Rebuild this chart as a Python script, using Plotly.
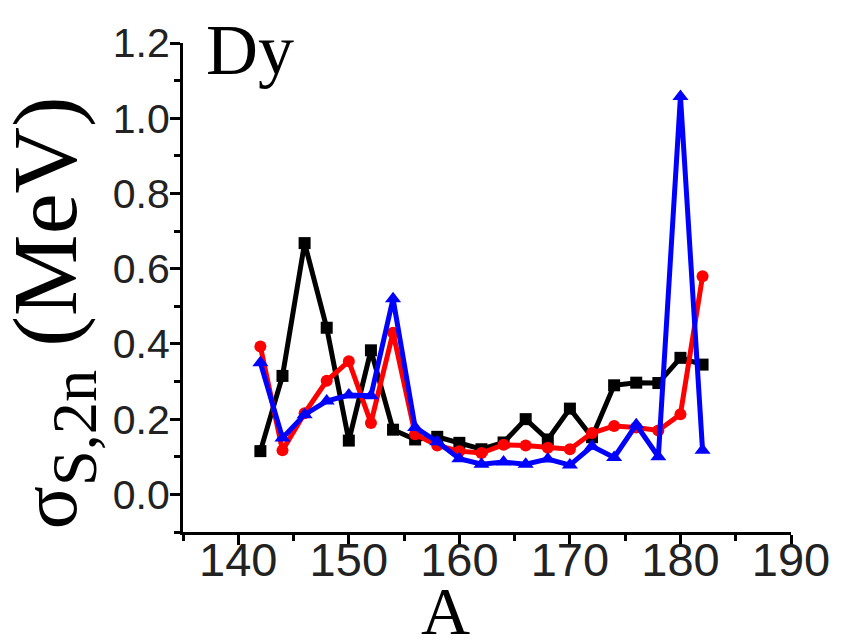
import plotly.graph_objects as go

A = [142, 144, 146, 148, 150, 152, 154, 156, 158, 160, 162, 164, 166, 168, 170, 172, 174, 176, 178, 180, 182]
black_vals = [0.115, 0.315, 0.668, 0.443, 0.143, 0.383, 0.172, 0.146, 0.153, 0.137, 0.12, 0.138, 0.2, 0.146, 0.228, 0.152, 0.29, 0.297, 0.296, 0.363, 0.345]
red_vals = [0.393, 0.117, 0.216, 0.302, 0.354, 0.19, 0.43, 0.16, 0.13, 0.115, 0.11, 0.132, 0.13, 0.124, 0.12, 0.163, 0.182, 0.178, 0.17, 0.213, 0.58]
blue_vals = [0.35, 0.15, 0.212, 0.248, 0.264, 0.262, 0.52, 0.178, 0.14, 0.095, 0.08, 0.086, 0.08, 0.094, 0.078, 0.128, 0.098, 0.185, 0.10, 1.058, 0.117]
x_ticks = [140, 150, 160, 170, 180, 190]
y_ticks = [0.0, 0.2, 0.4, 0.6, 0.8, 1.0, 1.2]

fig = go.Figure()
series = [
    (black_vals, "#000000", "square", 12),
    (red_vals, "#ff0000", "circle", 12),
    (blue_vals, "#0000ff", "triangle-up", 14),
]
for vals, col, sym, ms in series:
    fig.add_trace(go.Scatter(
        x=A, y=vals, mode="lines+markers",
        line=dict(color=col, width=5),
        marker=dict(color=col, symbol=sym, size=ms),
        showlegend=False, cliponaxis=False,
    ))

axis_common = dict(
    showline=True, linecolor="black", linewidth=3, mirror=False,
    ticks="outside", tickcolor="black", tickwidth=3, ticklen=10,
    showgrid=False, zeroline=False, ticklabeloverflow="allow",
)
fig.update_xaxes(
    range=[135, 190], tickvals=x_ticks, ticklabelstandoff=-25,
    tickfont=dict(family="Liberation Sans, Arial, sans-serif", size=47, color="#222"),
    minor=dict(dtick=5, tick0=135, ticks="outside", ticklen=6, tickwidth=3, tickcolor="black"),
    **axis_common,
)
fig.update_yaxes(
    range=[-0.1, 1.2], tickvals=y_ticks, tickformat=".1f", ticklabelstandoff=-8,
    tickfont=dict(family="Liberation Sans, Arial, sans-serif", size=41, color="#222"),
    minor=dict(dtick=0.1, tick0=0, ticks="outside", ticklen=6, tickwidth=3, tickcolor="black"),
    **axis_common,
)

fig.add_annotation(
    xref="paper", yref="paper", x=-0.215, y=0.448, textangle=-90,
    text='<span style="font-size:80px">σ</span><sub>S,2n</sub> (MeV)',
    showarrow=False, xanchor="center", yanchor="middle",
    font=dict(family="Liberation Serif, Times New Roman, serif", size=92, color="black"),
)
fig.add_annotation(
    xref="paper", yref="paper", x=0.4325, y=-0.162, text="A",
    showarrow=False, xanchor="center", yanchor="middle",
    font=dict(family="Liberation Serif, Times New Roman, serif", size=68, color="black"),
)
fig.add_annotation(
    xref="paper", yref="paper", x=0.035, y=0.985, text="Dy",
    showarrow=False, xanchor="left", yanchor="middle",
    font=dict(family="Liberation Serif, Times New Roman, serif", size=72, color="black"),
)

fig.update_layout(
    width=834, height=632,
    margin=dict(l=175, r=37, t=24, b=108),
    paper_bgcolor="white", plot_bgcolor="white",
)
fig.write_html("out.html")
